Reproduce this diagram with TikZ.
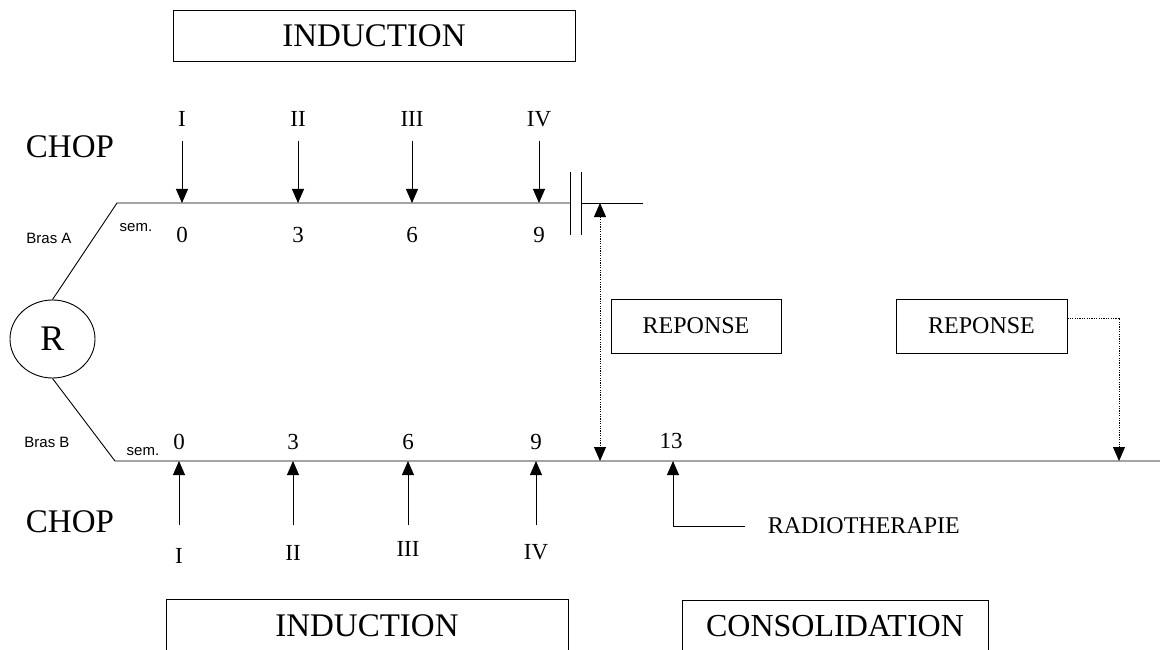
\documentclass[tikz,border=0pt]{standalone}
\usepackage{fontspec}
\setmainfont{Liberation Serif}
\newfontfamily\sansf{Liberation Sans}
\usetikzlibrary{arrows.meta,shapes.geometric}
\tikzset{
  tip/.style={-{Triangle[length=14pt,width=12pt]}},
  dtip/.style={{Triangle[length=14pt,width=12pt]}-{Triangle[length=14pt,width=12pt]}},
  dots/.style={dash pattern=on 1.2pt off 1.2pt},
  big/.style={font=\fontsize{33}{33}\selectfont},
  mid/.style={font=\fontsize{24}{24}\selectfont},
  num/.style={font=\fontsize{23}{23}\selectfont},
  small/.style={font=\sansf\fontsize{15}{15}\selectfont},
  boxed/.style={draw, rectangle, inner sep=0pt},
}
\begin{document}
\begin{tikzpicture}[x=1pt,y=-1pt,line width=0.9pt]
\useasboundingbox (0,0) rectangle (1160,650);

% top induction box
\node[boxed,big,minimum width=402,minimum height=51] (indA) at (374,35.5) {INDUCTION};

% labels CHOP
\node[big] (chopA) at (70,147) {CHOP};
\node[big] (chopB) at (70,522) {CHOP};

% randomisation
\node[draw,ellipse,minimum width=85,minimum height=78,inner sep=0pt,font=\fontsize{36}{36}\selectfont] (R) at (52.5,339) {R};
\node[small] (brasA) at (49,238) {Bras A};
\node[small] (brasB) at (47,442) {Bras B};
\node[small] (semA) at (136,228) {sem.};
\node[small] (semB) at (143,452) {sem.};

% arm A line
\coordinate (a0) at (117,203);
\coordinate (aBreakL) at (570,203);
\coordinate (aBreakR) at (581,203);
\coordinate (aEnd) at (643,203);
\draw (R.north) -- (a0) -- (aBreakL);
\draw (aBreakR) -- (aEnd);
\coordinate (b1t) at (570,172); \coordinate (b1b) at (570,235);
\coordinate (b2t) at (581,172); \coordinate (b2b) at (581,235);
\draw (b1t) -- (b1b);
\draw (b2t) -- (b2b);

% arm B line
\coordinate (b0) at (115,461);
\coordinate (bEnd) at (1160,461);
\draw (R.south) -- (b0) -- (bEnd);

% arm A cycles
\foreach \x/\r/\n [count=\i] in {182/I/0,298/II/3,412/III/6,539/IV/9}{
  \node[num] (rA\i) at (\x,119) {\r};
  \coordinate (sA\i) at (\x,141);
  \coordinate (eA\i) at (\x,203);
  \draw[tip] (sA\i) -- (eA\i);
  \node[num] (nA\i) at (\x,235) {\n};
}

% arm B cycles
\foreach \x/\r/\ry/\n [count=\i] in {179/I/556/0,293/II/553/3,408/III/549/6,536/IV/552/9}{
  \node[num] (rB\i) at (\x,\ry) {\r};
  \coordinate (sB\i) at (\x,525);
  \coordinate (eB\i) at (\x,461);
  \draw[tip] (sB\i) -- (eB\i);
  \node[num] (nB\i) at (\x,442) {\n};
}
\node[num] (n13) at (671,441) {13};

% response evaluation 1
\coordinate (dTop) at (600,203);
\coordinate (dBot) at (600,461);
\draw[dtip,dots] (dTop) -- (dBot);
\node[boxed,mid,minimum width=170,minimum height=54] (rep1) at (696,326) {REPONSE};

% response evaluation 2
\node[boxed,mid,minimum width=171,minimum height=54] (rep2) at (981.5,326) {REPONSE};
\coordinate (r2c) at (1119,318);
\coordinate (r2e) at (1119,461);
\draw[tip,dots] (rep2.east |- r2c) -- (r2c) -- (r2e);

% radiotherapy
\node[mid,anchor=west] (radio) at (764,526) {RADIOTHERAPIE};
\coordinate (rtS) at (745,526);
\coordinate (rtC) at (673,526);
\coordinate (rtE) at (673,461);
\draw[tip] (rtS) -- (rtC) -- (rtE);

% bottom boxes (cut by page edge)
\node[big] (indB) at (367,626) {INDUCTION};
\draw (166,660) -- (166,599) -- (568,599) -- (568,660);
\node[font=\fontsize{32}{32}\selectfont] (cons) at (835,626) {CONSOLIDATION};
\draw (682,660) -- (682,600) -- (988,600) -- (988,660);
\end{tikzpicture}
\end{document}
